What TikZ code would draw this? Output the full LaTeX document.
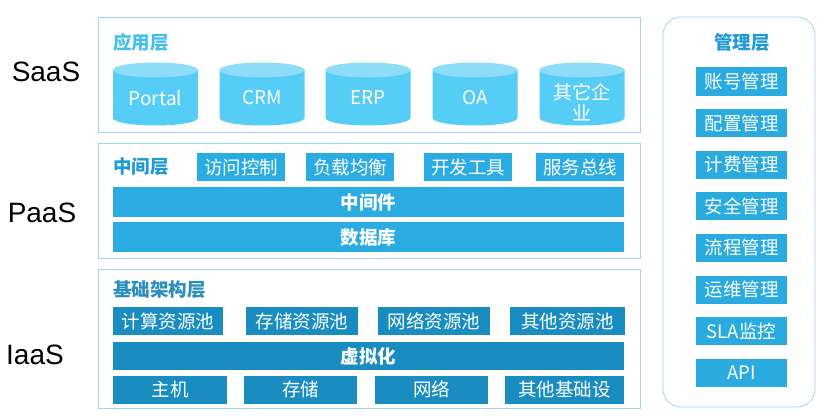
\documentclass[tikz,border=0pt]{standalone}
\usepackage{fontspec}
\setmainfont{Noto Sans CJK SC}
\newfontfamily\latinsans{Liberation Sans}
\usetikzlibrary{positioning}

\definecolor{layerline}{HTML}{9FD6EE}
\definecolor{apptitle}{HTML}{45C0EE}
\definecolor{midtitle}{HTML}{1F9AD6}
\definecolor{basetitle}{HTML}{2A8FBF}
\definecolor{cylside}{HTML}{56CDF6}
\definecolor{cyllid}{HTML}{8DDCF8}
\definecolor{midblue}{HTML}{2AACE2}
\definecolor{baseblue}{HTML}{1A8DC0}
\definecolor{mgmtblue}{HTML}{2AABDF}

\tikzset{
    layerbox/.style={draw=layerline, line width=0.8pt},
    btn/.style={minimum height=28pt, inner sep=0pt, text=white,
        font=\fontsize{18.5}{21}\selectfont},
    midbtn/.style={btn, fill=midblue, minimum width=88pt},
    basebtn/.style={btn, fill=baseblue},
    mgmtbtn/.style={btn, fill=mgmtblue, minimum width=91pt},
    bar/.style={minimum width=511pt, minimum height=30pt, inner sep=0pt,
        text=white, font=\bfseries\fontsize{18.5}{21}\selectfont},
    layertitle/.style={anchor=west, inner sep=0pt,
        font=\bfseries\fontsize{18.5}{21}\selectfont},
    cyltext/.style={text=white, align=center,
        font=\fontsize{19}{21}\selectfont},
    kind/.style={font=\latinsans\fontsize{28}{32}\selectfont}
}

\begin{document}
\begin{tikzpicture}[x=1pt, y=-1pt]

    % Canvas
    \fill[white] (0,0) rectangle (830,420);
    \useasboundingbox (0,0) rectangle (830,420);

    % Service kinds
    \node[kind] (saas) at (46,72) {SaaS};
    \node[kind] (paas) at (42,213) {PaaS};
    \node[kind] (iaas) at (35,355) {IaaS};

    % Layer boxes
    \draw[layerbox] (98,17) rectangle (640,132);
    \draw[layerbox] (98,143) rectangle (640,258);
    \draw[layerbox] (98,269) rectangle (640,408);

    % Application layer
    \node[layertitle, text=apptitle] (apptitle) at (113,42) {应用层};

    \foreach \cx in {155.5, 262, 368, 475, 582} {
        \fill[cylside] (\cx-42.5,70) -- (\cx-42.5,118)
            arc[start angle=180, end angle=0, x radius=42.5, y radius=7.5]
            -- (\cx+42.5,70) -- cycle;
        \fill[cyllid] (\cx,70) ellipse[x radius=42.5, y radius=7.5];
    }

    \node[cyltext] (portal) at (155.5,98) {Portal};
    \node[cyltext] (crm) at (262,98) {CRM};
    \node[cyltext] (erp) at (368,98) {ERP};
    \node[cyltext] (oa) at (475,98) {OA};
    \node[cyltext] (otherapp) at (582,102) {其它企\\业};

    % Middle layer
    \node[layertitle, text=midtitle] (midtitle) at (113,167) {中间层};
    \node[midbtn] (access) at (241,167) {访问控制};
    \node[midbtn] (balance) at (350,167) {负载均衡};
    \node[midbtn] (devtools) at (468,167) {开发工具};
    \node[midbtn] (bus) at (580,167) {服务总线};

    \node[bar, fill=midblue] (middleware) at (368.5,202) {中间件};
    \node[bar, fill=midblue] (database) at (368.5,237) {数据库};

    % Infrastructure layer
    \node[layertitle, text=basetitle] (basetitle) at (113,290) {基础架构层};
    \node[basebtn, minimum width=110pt] (cpupool) at (168,321) {计算资源池};
    \node[basebtn, minimum width=112pt] (storepool) at (302,321) {存储资源池};
    \node[basebtn, minimum width=112pt] (netpool) at (434,321) {网络资源池};
    \node[basebtn, minimum width=115pt] (otherpool) at (567.5,321) {其他资源池};

    \node[bar, fill=baseblue, minimum height=28pt] (virt) at (368.5,356) {虚拟化};

    \node[basebtn, minimum width=114pt] (host) at (170,389.5) {主机};
    \node[basebtn, minimum width=113pt] (storage) at (300.5,389.5) {存储};
    \node[basebtn, minimum width=113pt] (network) at (431.5,389.5) {网络};
    \node[basebtn, minimum width=119pt] (otherinfra) at (564.5,389.5) {其他基础设};

    % Management layer
    \draw[layerbox, rounded corners=18pt] (663,17) rectangle (815,407);
    \node[layertitle, anchor=center, text=midtitle] (mgmttitle) at (742,42) {管理层};

    \foreach \txt [count=\i from 0] in {账号管理, 配置管理, 计费管理, 安全管理,
                                        流程管理, 运维管理, SLA监控, API} {
        \node[mgmtbtn] (mg\i) at (741.5,81.5+41.6*\i) {\txt};
    }

\end{tikzpicture}
\end{document}
